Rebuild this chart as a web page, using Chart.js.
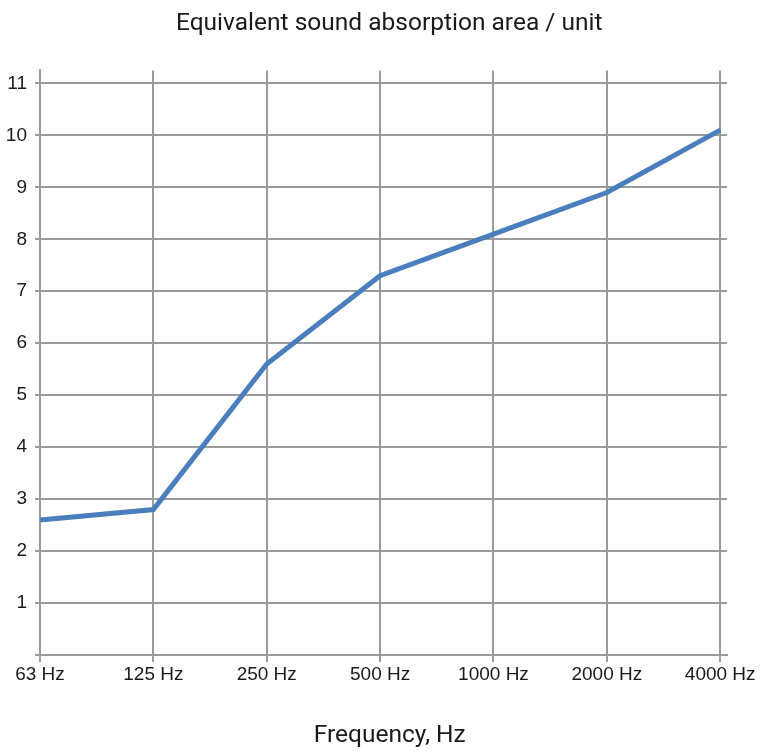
<!DOCTYPE html>
<html>
<head>
<meta charset="utf-8">
<script src="https://cdn.jsdelivr.net/npm/chart.js@4.4.1/dist/chart.umd.min.js"></script>
<style>
  body { margin: 0; background: #fff; }
  #wrap { width: 766px; height: 751px; }
</style>
</head>
<body>
<div id="wrap"><canvas id="absChart" width="766" height="751"></canvas></div>
<script>
const freqLabels = ['63 Hz', '125 Hz', '250 Hz', '500 Hz', '1000 Hz', '2000 Hz', '4000 Hz'];
const absorption = [2.6, 2.8, 5.6, 7.3, 8.1, 8.9, 10.1];
const yTicks = [0, 1, 2, 3, 4, 5, 6, 7, 8, 9, 10, 11];

const gridGray = '#9b9b9b';
const textColor = '#1a1a1a';

const ctx = document.getElementById('absChart');
if (ctx) {
    new Chart(ctx, {
        type: 'line',
        data: {
            datasets: [{
                label: 'Equivalent sound absorption area',
                data: absorption.map((v, i) => ({ x: i, y: v })),
                borderColor: '#4a7ebd',
                borderWidth: 5,
                pointRadius: 0,
                tension: 0,
                fill: false
            }]
        },
        options: {
            responsive: false,
            animation: false,
            layout: { padding: 0 },
            plugins: {
                legend: { display: false },
                tooltip: { enabled: false },
                title: {
                    display: true,
                    // leading en space nudges the centred title slightly right
                    text: '\u2002Equivalent sound absorption area / unit',
                    color: textColor,
                    font: { family: 'Roboto', size: 24.5, weight: 'normal' },
                    padding: { top: 9, bottom: 32 }
                }
            },
            scales: {
                x: {
                    type: 'linear',
                    min: 0,
                    max: 6.06,
                    afterBuildTicks: (scale) => {
                        scale.ticks = freqLabels.map((_, i) => ({ value: i }));
                    },
                    afterFit: (scale) => { scale.height = 96; },
                    ticks: {
                        color: textColor,
                        font: { family: 'Liberation Sans', size: 19 },
                        padding: 1,
                        maxRotation: 0,
                        autoSkip: false,
                        callback: (v) => freqLabels[v]
                    },
                    grid: { color: gridGray, lineWidth: 2, tickLength: 7 },
                    border: { color: gridGray, width: 2 },
                    title: {
                        display: true,
                        text: '\u2002Frequency, Hz',
                        color: textColor,
                        font: { family: 'Roboto', size: 24.5 },
                        padding: 0
                    }
                },
                y: {
                    min: 0,
                    max: 11.25,
                    afterBuildTicks: (scale) => {
                        scale.ticks = yTicks.map((v) => ({ value: v }));
                    },
                    afterFit: (scale) => { scale.width = 40; },
                    ticks: {
                        color: textColor,
                        font: { family: 'Liberation Sans', size: 19 },
                        padding: 8,
                        callback: (v) => (v === 0 ? '' : v)
                    },
                    grid: { color: gridGray, lineWidth: 2, tickLength: 5 },
                    border: { color: gridGray, width: 2 }
                },
                yRight: {
                    position: 'right',
                    min: 0,
                    max: 11.25,
                    afterFit: (scale) => { scale.width = 39; },
                    ticks: { display: false },
                    grid: { display: false, drawTicks: false },
                    border: { display: false }
                }
            }
        }
    });
}
</script>
</body>
</html>
